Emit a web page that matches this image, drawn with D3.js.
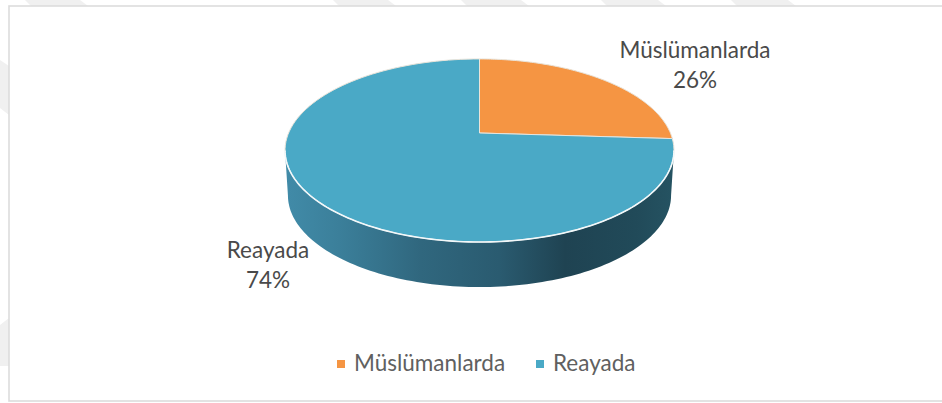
<!DOCTYPE html>
<html><head><meta charset="utf-8">
<style>html,body{margin:0;padding:0;background:#fff}svg{display:block}text{font-family:Lato,"Open Sans",sans-serif}</style>
<script src="https://cdn.jsdelivr.net/npm/d3@7/dist/d3.min.js"></script>
</head><body>
<script>
const categories = ["Müslümanlarda", "Reayada"];
const shares = [26, 74];
const colors = ["#f59543", "#4aa9c6"];
const percentLabels = ["26%", "74%"];

const W = 942, H = 403;
const svg = d3.select("body").append("svg").attr("width", W).attr("height", H);
const defs = svg.append("defs");

// faint page watermark behind the chart frame
const bg = svg.append("g").attr("fill", "#f0f0f0");
[[25,80],[333,388],[461,521],[601,658],[731,788]].forEach(([a,b]) =>
  bg.append("path").attr("d", `M${a},0L${b},0L${b+8},6L${a+6},6Z`));
bg.append("path").attr("d", "M0,60L9,66L9,115L0,108Z");
bg.append("path").attr("d", "M0,325L9,318L9,366L0,366Z");

svg.append("rect").attr("x", 9).attr("y", 6).attr("width", W + 10).attr("height", 395)
  .attr("fill", "#fff").attr("stroke", "#dcdcdc").attr("stroke-width", 1.6);

// projected disc (perspective view of a flat pie)
const cx = 479.5, apexY = 133, a = 190.9, b = 88.2, k = 0.191, depth = 45;
const project = t => {
  const s = 1 / (1 + k * Math.cos(t));
  return [cx + a * Math.sin(t) * s, apexY - b * Math.cos(t) * s];
};
const arcs = d3.pie().sort(null)(shares);
const line = d3.line();
const sample = (t0, t1, n = 120) => d3.range(n + 1).map(i => project(t0 + (t1 - t0) * i / n));

// side wall
const grad = defs.append("linearGradient").attr("id", "wall")
  .attr("gradientUnits", "userSpaceOnUse").attr("x1", 285).attr("x2", 674).attr("y1", 0).attr("y2", 0);
[[0, "#418ba8"], [0.14, "#3b7f9a"], [0.35, "#30677e"], [0.55, "#2a5b70"], [0.72, "#1f4352"], [0.9, "#214a59"], [1, "#255362"]]
  .forEach(([o, c]) => grad.append("stop").attr("offset", o).attr("stop-color", c));

const tMax = Math.acos(-k);               // angle of the widest point of the disc
const front = sample(tMax, 2 * Math.PI - tMax);
const shrink = 0.985;
const lower = front.map(([x, y]) => [cx + (x - cx) * shrink, y + depth]).reverse();
svg.append("path").attr("d", line(front.concat(lower)) + "Z").attr("fill", "url(#wall)");

// top surface
const slices = svg.append("g");
arcs.forEach((d, i) => {
  const pts = [[cx, apexY]].concat(sample(d.startAngle, d.endAngle));
  slices.append("path").attr("d", line(pts) + "Z").attr("fill", colors[i])
    .attr("stroke", "#e9e4da").attr("stroke-width", 1).attr("stroke-linejoin", "round");
});
// light rim along the front edge
svg.append("path").attr("d", line(front)).attr("fill", "none").attr("stroke", "#f2f8fa").attr("stroke-width", 1.6);

// data labels
const labelPos = [[695, 58], [268, 258]];
categories.forEach((c, i) => {
  const t = svg.append("text").attr("text-anchor", "middle").attr("font-size", 22.5).attr("fill", "#4a4a4a");
  t.append("tspan").attr("x", labelPos[i][0]).attr("y", labelPos[i][1]).text(c);
  t.append("tspan").attr("x", labelPos[i][0]).attr("y", labelPos[i][1] + 30).text(percentLabels[i]);
});

// legend
const legendX = [[337, 354], [536, 553]];
categories.forEach((c, i) => {
  svg.append("rect").attr("x", legendX[i][0]).attr("y", 360).attr("width", 8).attr("height", 8).attr("fill", colors[i]);
  svg.append("text").attr("x", legendX[i][1]).attr("y", 371).attr("font-size", 22.5).attr("fill", "#606060").text(c);
});
</script>
</body></html>
